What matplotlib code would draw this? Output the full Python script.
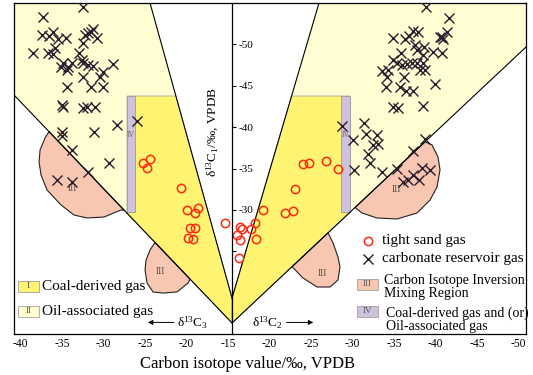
import matplotlib
matplotlib.use("Agg")
import matplotlib.pyplot as plt
import numpy as np
from matplotlib.patches import Polygon
from matplotlib.transforms import ScaledTranslation

plt.rcParams['font.family'] = ['Liberation Serif', 'DejaVu Serif']
plt.rcParams['mathtext.fontset'] = 'custom'
plt.rcParams['mathtext.rm'] = 'Liberation Serif'
plt.rcParams['mathtext.it'] = 'Liberation Serif:italic'

# carbonate reservoir gas, left half: d13C3 vs d13C1
carb_c3 = [-33.0, -37.8, -37.9, -36.6, -37.0, -36.0, -35.0, -39.0, -37.2, -36.6,
           -36.3, -32.7, -32.3, -31.7, -32.0, -31.3, -33.0, -33.4, -35.6, -35.4,
           -34.8, -34.3, -34.9, -33.1, -33.0, -32.3, -31.7, -30.5, -29.3, -33.0,
           -32.0, -30.9, -30.5, -34.9, -35.5, -35.4, -33.0, -31.5, -32.5, -28.9,
           -26.4, -35.5, -35.5, -34.3, -31.6, -29.8, -32.3, -36.1, -34.3]
carb_c1_l = [-54.5, -53.3, -51.1, -51.5, -51.0, -50.6, -50.8, -49.0, -49.0, -48.8,
             -49.6, -51.1, -51.4, -51.9, -51.5, -50.8, -50.2, -49.0, -47.3, -47.7,
             -47.3, -47.7, -46.9, -48.1, -47.7, -47.5, -47.4, -46.7, -47.6, -46.1,
             -44.8, -46.1, -44.8, -44.8, -42.7, -42.4, -42.3, -42.4, -42.4, -40.3,
             -40.7, -39.4, -38.9, -37.2, -39.4, -35.7, -34.6, -33.6, -33.4]

# carbonate reservoir gas, right half: d13C2 vs d13C1
carb_c2 = [-38.4, -41.1, -36.8, -37.4, -36.3, -34.4, -35.8, -40.1, -40.4, -40.9,
           -40.3, -37.0, -38.1, -37.3, -39.2, -40.3, -35.4, -38.0, -34.4, -34.9,
           -35.5, -36.1, -36.7, -37.3, -38.0, -33.1, -33.8, -37.7, -38.3, -33.7,
           -35.7, -33.6, -35.2, -36.0, -36.8, -39.5, -34.4, -35.0, -38.0, -28.3,
           -30.9, -29.6, -31.1, -32.5, -32.0, -32.6, -31.4, -31.6, -29.7, -33.1,
           -34.9, -36.8, -38.3, -35.6, -36.8, -37.5, -38.9, -37.9, -36.2]
carb_c1_r = [-54.5, -53.2, -51.6, -51.5, -51.0, -50.8, -50.6, -50.9, -50.6, -51.5,
             -50.9, -49.9, -49.7, -49.3, -49.1, -49.0, -49.0, -48.7, -48.1, -47.7,
             -47.5, -47.6, -47.7, -47.7, -47.7, -46.8, -46.9, -46.9, -46.9, -46.1,
             -46.1, -44.8, -44.8, -44.4, -44.4, -45.2, -42.4, -42.3, -42.6, -40.1,
             -40.5, -38.4, -39.2, -39.0, -37.8, -38.0, -36.8, -35.7, -34.8, -34.6,
             -35.0, -37.1, -38.6, -33.4, -34.2, -33.6, -34.8, -35.1, -33.6]

# tight sand gas
tight_c3 = [-25.7, -24.9, -25.2, -21.1, -20.4, -19.1, -19.5, -20.1, -19.5, -20.3,
            -19.7, -15.8]
tight_c1_l = [-35.7, -36.1, -35.1, -32.6, -30.0, -30.2, -29.6, -27.8, -27.8, -26.6,
              -26.5, -28.4]
tight_c2 = [-16.0, -16.2, -15.6, -16.0, -17.3, -17.8, -17.9, -15.8, -18.7, -21.4,
            -22.3, -22.6, -23.6, -24.3, -26.3, -27.8]
tight_c1_r = [-27.9, -27.7, -27.0, -26.4, -27.7, -28.4, -26.5, -24.2, -30.0, -29.6,
              -29.9, -32.5, -35.5, -35.7, -35.9, -34.9]

x_tick_labels = ['-40', '-35', '-30', '-25', '-20', '-15', '-20', '-25', '-30',
                 '-35', '-40', '-45', '-50']
y_ticks = [-50, -45, -40, -35, -30, -25]
y_tick_labels = ['-50', '-45', '-40', '-35', '-30', '']

# template of the diagram (plot units: distance from -15 per mil along x)
XL, XR = -26.27, 35.42
YB, YT = -15, -55
V_IN = (0, -19.35)
V_OUT = (0, -16.33)
lineA_L = [(-9.88, YT), V_IN]
lineB_L = [(XL, -43.88), V_OUT]
lineA_R = [(10.48, YT), V_IN]
lineB_R = [(XR, -49.68), V_OUT]
zone_top = -43.76
zone_bot = -29.72
strip_L = (-12.65, -11.69)
strip_R = (13.13, 14.22)

blob1 = [(-22.05, -39.46), (-22.53, -38.69), (-23.13, -37.24), (-23.25, -35.79),
         (-23.01, -34.21), (-22.29, -32.40), (-20.60, -30.59), (-19.04, -29.38),
         (-17.47, -29.02), (-15.42, -29.14), (-13.37, -29.99), (-13.01, -29.97)]
blob2 = [(-9.28, -26.06), (-9.88, -25.15), (-10.36, -23.94), (-10.48, -22.73),
         (-10.24, -21.16), (-9.52, -20.08), (-8.31, -19.95), (-6.63, -20.08),
         (-5.30, -21.16), (-5.06, -21.63)]
blob3 = [(23.25, -38.23), (24.10, -37.84), (24.82, -36.39), (25.06, -34.82),
         (24.70, -32.76), (23.86, -31.19), (22.29, -29.62), (19.88, -28.90),
         (17.47, -29.02), (15.66, -29.62), (14.82, -30.29)]
blob4 = [(11.57, -27.22), (12.17, -26.00), (12.77, -24.31), (13.01, -23.10),
         (12.77, -21.53), (11.81, -20.68), (10.24, -20.68), (8.55, -21.77),
         (7.23, -23.13)]
blob_labels = [(-19.28, -32.64), (-8.67, -22.61), (19.76, -32.52), (10.84, -22.37)]

c_I = '#fff372'
c_II = '#fffdd2'
c_III = '#f8c7b1'
c_IV = '#cfc2dd'


def left_x(v):
    return np.asarray(v) + 15


def right_x(v):
    return -15 - np.asarray(v)


def x_on(line, y):
    (x0, y0), (x1, y1) = line
    return x0 + (y - y0) * (x1 - x0) / (y1 - y0)


def y_on(line, x):
    (x0, y0), (x1, y1) = line
    return y0 + (x - x0) * (y1 - y0) / (x1 - x0)


fig = plt.figure(figsize=(5.33, 3.75), dpi=100)
ax = fig.add_axes([14 / 533, 41 / 375, 512 / 533, 331 / 375])
ax.set_xlim(XL, XR)
ax.set_ylim(YB, YT)

# zone II
ax.add_patch(Polygon([(XL, YT), lineA_L[0], V_IN, V_OUT, lineB_L[0]],
                     facecolor=c_II, edgecolor='none', zorder=1))
ax.add_patch(Polygon([lineA_R[0], (XR, YT), lineB_R[0], V_OUT, V_IN],
                     facecolor=c_II, edgecolor='none', zorder=1))
# zone I
ax.add_patch(Polygon([(strip_L[0], zone_top), (x_on(lineA_L, zone_top), zone_top), V_IN,
                      V_OUT, (strip_L[0], y_on(lineB_L, strip_L[0]))],
                     facecolor=c_I, edgecolor='#a8a8a8', lw=0.6, zorder=2))
ax.add_patch(Polygon([(x_on(lineA_R, zone_top), zone_top), (strip_R[1], zone_top),
                      (strip_R[1], y_on(lineB_R, strip_R[1])), V_OUT, V_IN],
                     facecolor=c_I, edgecolor='#a8a8a8', lw=0.6, zorder=2))
# zone IV
for s in (strip_L, strip_R):
    ax.add_patch(Polygon([(s[0], zone_top), (s[1], zone_top), (s[1], zone_bot), (s[0], zone_bot)],
                         facecolor=c_IV, edgecolor='#9a9a9a', lw=0.6, zorder=3))
ax.text(np.mean(strip_L), -39.0, 'IV', fontsize=5.5, color='#666666', ha='center', va='center', zorder=4)
ax.text(np.mean(strip_R), -39.0, 'IV', fontsize=5.5, color='#666666', ha='center', va='center', zorder=4)
# zone III
for b in (blob1, blob2, blob3, blob4):
    ax.add_patch(Polygon(b, closed=True, facecolor=c_III, edgecolor='#222222', lw=0.8, zorder=3))
for bx, by in blob_labels:
    ax.text(bx, by, 'III', fontsize=7, color='#555555', ha='center', va='center', zorder=4)

for ln in (lineA_L, lineB_L, lineA_R, lineB_R):
    ax.plot([ln[0][0], ln[1][0]], [ln[0][1], ln[1][1]], color='black', lw=0.8, zorder=5)

# samples
ax.plot(left_x(carb_c3), carb_c1_l, 'x', color='#2a1c2c', ms=6.5, mew=1.0, zorder=6)
ax.plot(right_x(carb_c2), carb_c1_r, 'x', color='#2a1c2c', ms=6.5, mew=1.0, zorder=6)
ax.plot(left_x(tight_c3), tight_c1_l, 'o', mfc='none', mec='#ff2a14', ms=6, mew=1.1, zorder=6)
ax.plot(right_x(tight_c2), tight_c1_r, 'o', mfc='none', mec='#ff2a14', ms=6, mew=1.1, zorder=6)

# axes: y axis in the middle, ticks to the right
for side in ('top', 'bottom', 'left'):
    ax.spines[side].set_linewidth(0.9)
ax.spines['right'].set_position(('data', 0))
ax.spines['right'].set_linewidth(0.9)
ax.spines['right'].set_zorder(7)
ax.plot([1, 1], [0, 1], color='black', lw=0.9, transform=ax.transAxes, clip_on=False, zorder=7)
ax.yaxis.tick_right()
ax.set_yticks(y_ticks)
ax.set_yticklabels(y_tick_labels)
ax.tick_params(axis='y', direction='out', length=3, width=0.8, labelsize=8, pad=2)
ax.set_xticks(np.arange(-25, 36, 5))
ax.set_xticklabels(x_tick_labels)
ax.tick_params(axis='x', length=0, labelsize=8.3, pad=3)
for lab in ax.get_xticklabels():
    lab.set_transform(lab.get_transform() + ScaledTranslation(-4 / 100, 0, fig.dpi_scale_trans))

ax.text(0.456, -0.09, 'Carbon isotope value/‰, VPDB', transform=ax.transAxes,
        ha='center', va='center', fontsize=12)
ax.text(0.389, 0.609, 'δ$^{13}$C$_1$/‰, VPDB', transform=ax.transAxes, rotation=90,
        ha='center', va='center', fontsize=9.5)

# direction arrows
ax.annotate('', xy=(0.256, 0.035), xytext=(0.318, 0.035), xycoords='axes fraction',
            arrowprops=dict(arrowstyle='-|>', color='black', lw=0.7, mutation_scale=7))
ax.text(0.348, 0.035, 'δ$^{13}$C$_3$', transform=ax.transAxes, ha='center', va='center', fontsize=9.5)
ax.annotate('', xy=(0.590, 0.035), xytext=(0.527, 0.035), xycoords='axes fraction',
            arrowprops=dict(arrowstyle='-|>', color='black', lw=0.7, mutation_scale=7))
ax.text(0.496, 0.035, 'δ$^{13}$C$_2$', transform=ax.transAxes, ha='center', va='center', fontsize=9.5)

# left legend
def swatch(x0, y0, color, label):
    ax.add_patch(Polygon([(x0, y0), (x0 + 0.041, y0), (x0 + 0.041, y0 + 0.034), (x0, y0 + 0.034)],
                         transform=ax.transAxes, facecolor=color, edgecolor='#a0a0a0', lw=0.6, zorder=8))
    ax.text(x0 + 0.0205, y0 + 0.017, label, transform=ax.transAxes, fontsize=6.5,
            color='#555555', ha='center', va='center', zorder=9)

swatch(0.008, 0.127, c_I, 'I')
ax.text(0.055, 0.143, 'Coal-derived gas', transform=ax.transAxes, ha='left', va='center', fontsize=11, zorder=9)
swatch(0.008, 0.052, c_II, 'II')
ax.text(0.055, 0.068, 'Oil-associated gas', transform=ax.transAxes, ha='left', va='center', fontsize=11, zorder=9)

# right legend
ax.plot([0.691], [0.281], 'o', mfc='none', mec='#ff2a14', ms=6, mew=1.1, transform=ax.transAxes, zorder=9)
ax.text(0.719, 0.281, 'tight sand gas', transform=ax.transAxes, ha='left', va='center', fontsize=11, zorder=9)
ax.plot([0.691], [0.227], 'x', color='#2a1c2c', ms=6.5, mew=1.0, transform=ax.transAxes, zorder=9)
ax.text(0.719, 0.227, 'carbonate reservoir gas', transform=ax.transAxes, ha='left', va='center', fontsize=11, zorder=9)
swatch(0.670, 0.133, c_III, 'III')
ax.text(0.723, 0.163, 'Carbon Isotope Inversion', transform=ax.transAxes, ha='left', va='center', fontsize=10, zorder=9)
ax.text(0.723, 0.121, 'Mixing Region', transform=ax.transAxes, ha='left', va='center', fontsize=10, zorder=9)
swatch(0.670, 0.051, c_IV, 'IV')
ax.text(0.727, 0.064, 'Coal-derived gas and (or)', transform=ax.transAxes, ha='left', va='center', fontsize=10, zorder=9)
ax.text(0.727, 0.024, 'Oil-associated gas', transform=ax.transAxes, ha='left', va='center', fontsize=10, zorder=9)

fig.savefig('out.png', dpi=100)
